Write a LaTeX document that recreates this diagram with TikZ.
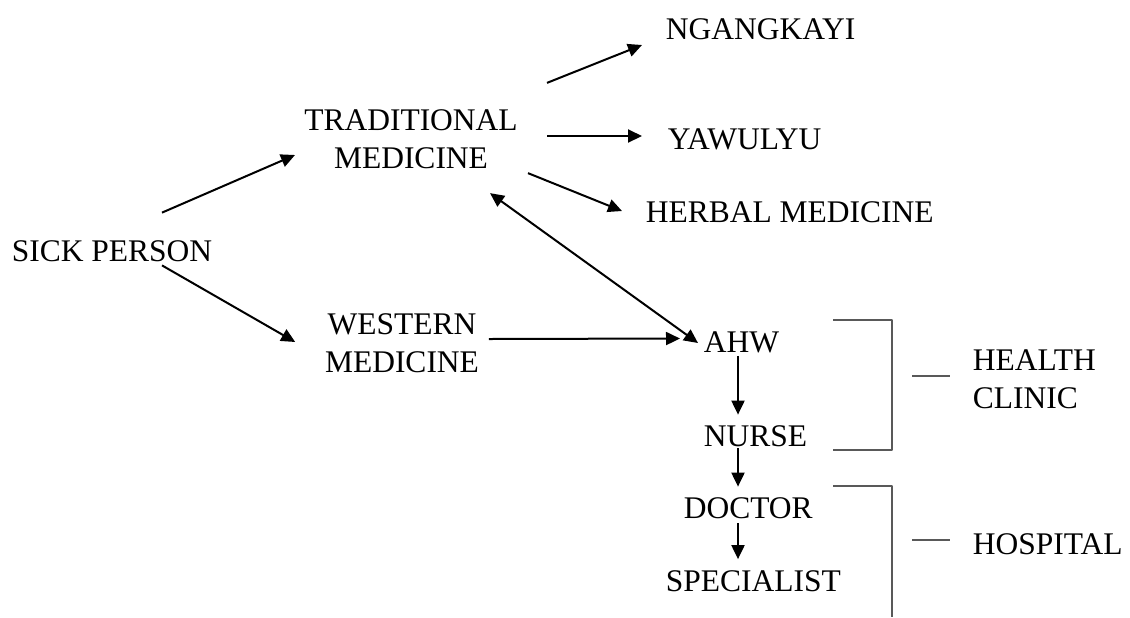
\documentclass[tikz,border=0pt]{standalone}
\usepackage{fontspec}
\setmainfont{Liberation Serif}
\usetikzlibrary{arrows.meta}

\begin{document}
\begin{tikzpicture}[x=0.5pt,y=-0.5pt,line join=round,>={Triangle[length=7pt,width=6.5pt]},thick]
	\tikzset{every node/.style={inner sep=0pt,font=\fontsize{15.75}{18.75}\selectfont,align=center},
		link/.style={->,line width=1pt},
		brace/.style={line width=0.6pt,black!65}}
	\useasboundingbox (0,0) rectangle (1130,617);
	% carers
	\node (sick) at (112,251) {SICK PERSON};
	\node (trad) at (411,139) {TRADITIONAL\\MEDICINE};
	\node (west) at (402,343) {WESTERN\\MEDICINE};
	\node[anchor=west] (ngang) at (665,29) {NGANGKAYI};
	\node[anchor=west] (yaw) at (667,139.5) {YAWULYU};
	\node[anchor=west] (herb) at (645,212.5) {HERBAL MEDICINE};
	\node[anchor=west] (ahw) at (703,342.5) {AHW};
	\node[anchor=west] (nurse) at (703,436) {NURSE};
	\node[anchor=west] (doctor) at (683,508) {DOCTOR};
	\node[anchor=west] (spec) at (665,581.5) {SPECIALIST};
	\node[anchor=west,align=left] (clinic) at (972,379) {HEALTH\\CLINIC};
	\node[anchor=west] (hosp) at (972,544) {HOSPITAL};
	\coordinate (col) at (738,0);
	% arrows
	\draw[link] ([shift={(50,-27)}]sick.north) -- ([shift={(-8.5,16)}]trad.west);
	\draw[link] ([shift={(50,3)}]sick.south) -- ([shift={(-29,-1)}]west.west);
	\draw[link] ([shift={(9,-4)}]west.east) -- ([shift={(-23,-4)}]ahw.west);
	\draw[link,<->] ([shift={(-28.5,24)}]trad.south east) -- ([shift={(-5,0.5)}]ahw.west);
	\draw[link] ([shift={(28.5,-26)}]trad.north east) -- ([shift={(-23,16)}]ngang.west);
	\draw[link] ([shift={(28.5,-3)}]trad.east) -- ([shift={(-25,-3.5)}]yaw.west);
	\draw[link] ([shift={(9.5,4)}]trad.south east) -- ([shift={(-23,-1.5)}]herb.west);
	\draw[link,shorten <=1pt,shorten >=5pt] (col |- ahw.south) -- (col |- nurse.north);
	\draw[link,shorten <=0.5pt,shorten >=5pt] (col |- nurse.south) -- (col |- doctor.north);
	\draw[link,shorten <=2pt,shorten >=5.5pt] (col |- doctor.south) -- (col |- spec.north);
	% brackets
	\draw[brace] (833,320) -| (892,450) -- (833,450);
	\draw[brace] (833,486) -| (892,617);
	\draw[brace] ([shift={(-60,-3)}]clinic.west) -- ([shift={(-22,-3)}]clinic.west);
	\draw[brace] ([shift={(-60,-4)}]hosp.west) -- ([shift={(-22,-4)}]hosp.west);
\end{tikzpicture}
\end{document}
